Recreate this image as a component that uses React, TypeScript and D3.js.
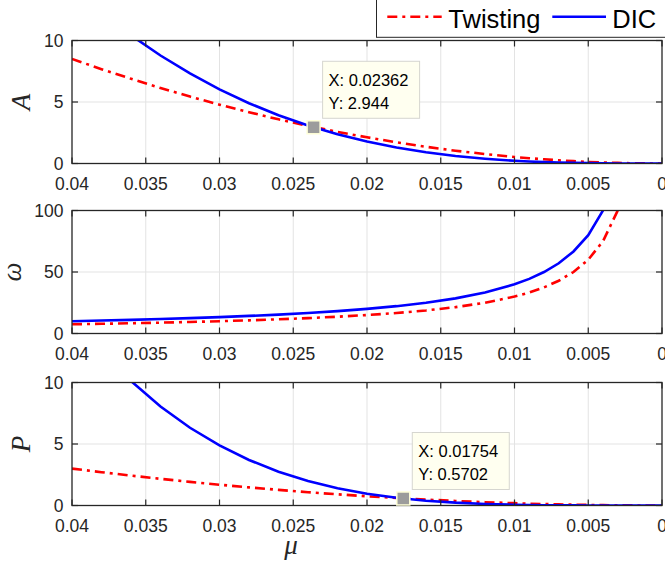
import React from "react";
import * as d3 from "d3";

// Damping parameter mu (x axis, drawn reversed from 0.04 down to 0)
const MU = [
  0.04, 0.038, 0.036, 0.034, 0.032, 0.03, 0.028, 0.026, 0.024, 0.022, 0.02,
  0.018, 0.016, 0.014, 0.012, 0.01, 0.009, 0.008, 0.007, 0.006, 0.005, 0.004,
  0.003, 0.002, 0.001, 0,
];

// Amplitude A
const A_TWISTING = [
  8.5, 7.67, 6.89, 6.14, 5.44, 4.78, 4.17, 3.59, 3.06, 2.57, 2.13, 1.72, 1.36,
  1.04, 0.77, 0.53, 0.43, 0.34, 0.26, 0.19, 0.13, 0.085, 0.048, 0.021, 0.005, 0,
];
const A_DIC = [
  14.3, 12.26, 10.42, 8.78, 7.32, 6.03, 4.9, 3.93, 3.09, 2.38, 1.79, 1.3, 0.92,
  0.61, 0.39, 0.22, 0.16, 0.11, 0.077, 0.048, 0.028, 0.014, 0.006, 0.002, 0, 0,
];

// Frequency omega
const OMEGA_TWISTING = [
  7.5, 7.89, 8.33, 8.82, 9.38, 10.0, 10.71, 11.54, 12.5, 13.64, 15.0, 16.67,
  18.75, 21.43, 25.0, 30.0, 33.3, 37.5, 42.9, 50.0, 60.0, 75.0, 100.0, 150.0,
  null, null,
];
const OMEGA_DIC = [
  10.0, 10.53, 11.11, 11.76, 12.5, 13.33, 14.29, 15.38, 16.67, 18.18, 20.0,
  22.22, 25.0, 28.57, 33.33, 40.0, 44.4, 50.0, 57.1, 66.7, 80.0, 100.0, 133.0,
  200.0, null, null,
];

// Power P
const P_TWISTING = [
  3.0, 2.71, 2.43, 2.17, 1.92, 1.69, 1.47, 1.27, 1.08, 0.91, 0.75, 0.61, 0.48,
  0.37, 0.27, 0.19, 0.15, 0.12, 0.092, 0.068, 0.047, 0.03, 0.017, 0.0075, 0.002,
  0,
];
const P_DIC = [
  15.42, 12.56, 10.12, 8.05, 6.32, 4.88, 3.7, 2.75, 2.0, 1.41, 0.96, 0.63, 0.39,
  0.23, 0.125, 0.06, 0.04, 0.025, 0.014, 0.0078, 0.0038, 0.0015, 0.0005, 0.0001,
  0, 0,
];

const X_TICKS = [0.04, 0.035, 0.03, 0.025, 0.02, 0.015, 0.01, 0.005, 0];
const X_TICK_LABELS = ["0.04", "0.035", "0.03", "0.025", "0.02", "0.015", "0.01", "0.005", "0"];
const Y_TICKS_A = [0, 5, 10];
const Y_TICKS_OMEGA = [0, 50, 100];
const Y_TICKS_P = [0, 5, 10];

const SERIES_NAMES = ["Twisting", "DIC"];

// Data tips: panel index, mu, value
const TIP_PANELS = [0, 2];
const TIP_X = [0.02362, 0.01754];
const TIP_Y = [2.944, 0.5702];

const W = 665;
const H = 562;
const LEFT = 72;
const RIGHT = 662;
const PANEL_TOPS = [40.5, 210.5, 382.5];
const PANEL_H = 123;

const AXIS_COLOR = "#262626";
const GRID_COLOR = "#e3e3e3";
const RED = "#ff0000";
const BLUE = "#0000ff";
const SANS = "'Liberation Sans', Arial, Helvetica, sans-serif";
const SERIF = "'Liberation Serif', 'Times New Roman', serif";
const TICK_FONT = 17.5;

type Panel = {
  label: string;
  ticks: number[];
  twisting: (number | null)[];
  dic: (number | null)[];
};

const panels: Panel[] = [
  { label: "A", ticks: Y_TICKS_A, twisting: A_TWISTING, dic: A_DIC },
  { label: "ω", ticks: Y_TICKS_OMEGA, twisting: OMEGA_TWISTING, dic: OMEGA_DIC },
  { label: "P", ticks: Y_TICKS_P, twisting: P_TWISTING, dic: P_DIC },
];

const x = d3.scaleLinear().domain([0.04, 0]).range([LEFT, RIGHT]);

function PanelView({ panel, index }: { panel: Panel; index: number }) {
  const top = PANEL_TOPS[index];
  const bottom = top + PANEL_H;
  const yMax = panel.ticks[panel.ticks.length - 1];
  const y = d3.scaleLinear().domain([0, yMax]).range([bottom, top]);
  const line = d3
    .line<[number, number | null]>()
    .defined((d) => d[1] != null)
    .x((d) => x(d[0]))
    .y((d) => y(d[1] as number));
  const pts = (vals: (number | null)[]) =>
    MU.map((m, i) => [m, vals[i]] as [number, number | null]);
  const clipId = `clip-${index}`;
  const tickLen = 6;

  // y label sits left of the widest tick label
  const widest = d3.max(panel.ticks, (t) => String(t).length) || 1;
  const labelX = LEFT - 8.5 - widest * 0.556 * 17 - 14.5;
  const midY = (top + bottom) / 2;

  return (
    <g>
      <defs>
        <clipPath id={clipId}>
          <rect x={LEFT} y={top} width={RIGHT - LEFT} height={PANEL_H} />
        </clipPath>
      </defs>
      <rect x={LEFT} y={top} width={RIGHT - LEFT} height={PANEL_H} fill="#fff" />
      {/* grid */}
      {X_TICKS.filter((t) => t !== 0.04 && t !== 0).map((t) => (
        <line key={`gx${t}`} x1={x(t)} x2={x(t)} y1={top} y2={bottom} stroke={GRID_COLOR} strokeWidth={1} />
      ))}
      {panel.ticks.filter((t) => t !== 0 && t !== yMax).map((t) => (
        <line key={`gy${t}`} x1={LEFT} x2={RIGHT} y1={y(t)} y2={y(t)} stroke={GRID_COLOR} strokeWidth={1} />
      ))}
      {/* curves */}
      <g clipPath={`url(#${clipId})`}>
        <path d={line(pts(panel.twisting)) || ""} fill="none" stroke={RED} strokeWidth={2.6} strokeDasharray="10,5,3,5" />
        <path d={line(pts(panel.dic)) || ""} fill="none" stroke={BLUE} strokeWidth={2.6} />
      </g>
      {/* ticks on all four sides, pointing inward */}
      {X_TICKS.map((t) => (
        <g key={`tx${t}`}>
          <line x1={x(t)} x2={x(t)} y1={bottom} y2={bottom - tickLen} stroke={AXIS_COLOR} strokeWidth={1.2} />
          <line x1={x(t)} x2={x(t)} y1={top} y2={top + tickLen} stroke={AXIS_COLOR} strokeWidth={1.2} />
        </g>
      ))}
      {panel.ticks.map((t) => (
        <g key={`ty${t}`}>
          <line x1={LEFT} x2={LEFT + tickLen} y1={y(t)} y2={y(t)} stroke={AXIS_COLOR} strokeWidth={1.2} />
          <line x1={RIGHT} x2={RIGHT - tickLen} y1={y(t)} y2={y(t)} stroke={AXIS_COLOR} strokeWidth={1.2} />
        </g>
      ))}
      <rect x={LEFT} y={top} width={RIGHT - LEFT} height={PANEL_H} fill="none" stroke={AXIS_COLOR} strokeWidth={1.3} />
      {/* tick labels */}
      {X_TICKS.map((t, i) => (
        <text key={`lx${t}`} x={x(t)} y={bottom + 26} textAnchor="middle" fontFamily={SANS} fontSize={TICK_FONT} fill={AXIS_COLOR}>
          {X_TICK_LABELS[i]}
        </text>
      ))}
      {panel.ticks.map((t) => (
        <text key={`ly${t}`} x={LEFT - 8.5} y={y(t) + 6} textAnchor="end" fontFamily={SANS} fontSize={TICK_FONT} fill={AXIS_COLOR}>
          {String(t)}
        </text>
      ))}
      <text
        transform={`translate(${labelX},${midY}) rotate(-90)`}
        textAnchor="middle"
        fontFamily={SERIF}
        fontStyle="italic"
        fontSize={27}
        fill={AXIS_COLOR}
      >
        {panel.label}
      </text>
    </g>
  );
}

function DataTip({ panelIndex, mx, my }: { panelIndex: number; mx: number; my: number }) {
  const top = PANEL_TOPS[panelIndex];
  const panel = panels[panelIndex];
  const yMax = panel.ticks[panel.ticks.length - 1];
  const y = d3.scaleLinear().domain([0, yMax]).range([top + PANEL_H, top]);
  const cx = x(mx);
  const cy = y(my);
  const bx = cx + 9;
  const by = cy - 66;
  return (
    <g>
      <rect x={cx - 6.5} y={cy - 6.5} width={13} height={13} fill="#9c9c9c" stroke="#ffffd8" strokeWidth={1.5} />
      <rect x={bx} y={by} width={97} height={57} fill="#fffff0" stroke="#d6d6d0" strokeWidth={1} />
      <text x={bx + 6} y={by + 24.5} fontFamily={SANS} fontSize={16.5} fill="#000">
        {`X: ${mx}`}
      </text>
      <text x={bx + 6} y={by + 47.5} fontFamily={SANS} fontSize={16.5} fill="#000">
        {`Y: ${my}`}
      </text>
    </g>
  );
}

export default function App() {
  const lastBottom = PANEL_TOPS[2] + PANEL_H;
  return (
    <svg
      width={W}
      height={H}
      viewBox={`0 0 ${W} ${H}`}
      style={{ position: "absolute", left: 0, top: 0, background: "#fff" }}
    >
      <rect x={0} y={0} width={W} height={H} fill="#fff" />
      {panels.map((p, i) => (
        <PanelView key={i} panel={p} index={i} />
      ))}
      {TIP_PANELS.map((pi, i) => (
        <DataTip key={i} panelIndex={pi} mx={TIP_X[i]} my={TIP_Y[i]} />
      ))}
      {/* x axis label */}
      <text x={291} y={lastBottom + 48} textAnchor="middle" fontFamily={SERIF} fontStyle="italic" fontSize={27} fill={AXIS_COLOR}>
        μ
      </text>
      {/* legend */}
      <g>
        <rect x={376.5} y={-5} width={300} height={42.3} fill="#fff" stroke={AXIS_COLOR} strokeWidth={1} />
        <line x1={387.3} x2={441.7} y1={16.7} y2={16.7} stroke={RED} strokeWidth={2.6} strokeDasharray="10,5,3,5" />
        <text x={448.3} y={27.5} fontFamily={SANS} fontSize={25.5} fill="#000">
          {SERIES_NAMES[0]}
        </text>
        <line x1={552.3} x2={606} y1={16.7} y2={16.7} stroke={BLUE} strokeWidth={2.6} />
        <text x={612.3} y={27.5} fontFamily={SANS} fontSize={25.5} fill="#000">
          {SERIES_NAMES[1]}
        </text>
      </g>
    </svg>
  );
}
